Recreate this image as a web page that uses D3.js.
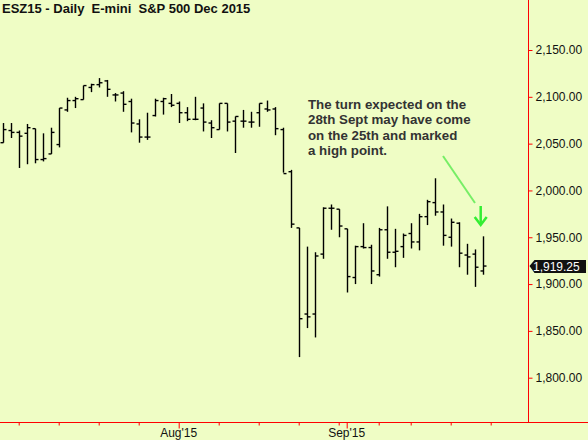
<!DOCTYPE html>
<html lang="en">
<head>
<meta charset="UTF-8">
<title>ESZ15 Daily</title>
<script src="https://cdn.jsdelivr.net/npm/d3@7"></script>
<style>
  body{margin:0;background:#effdc5;}
  text{font-family:Arial,"Liberation Sans",sans-serif;}
</style>
</head>
<body>
<div id="box"></div>
<script>
// trading days Jul 1 - Sep 25 2015 (Jul 3 and Sep 7 closed)
const holidays=["2015-07-03","2015-09-07"];
const fmt=d3.timeFormat("%Y-%m-%d");
const dates=d3.timeDay.range(new Date(2015,6,1),new Date(2015,8,26))
  .filter(d=>d.getDay()>0&&d.getDay()<6&&!holidays.includes(fmt(d))).map(fmt);

const opens =[2051,2064,2062,2061,2066,2033,2039,2049,2086,2096,2097,2110,2113,2117,2102,2104,2095,2071,2057,2080,2095,2093,2093,2083,2076,2088,2072,2065,2093,2074,2074,2073,2083,2087,2087,2065,2020,1960,1868,1868,1932,1981,1980,1959,1907,1940,1939,1910,1958,1934,1940,1954,1945,1972,1987,1977,1950,1965,1931,1932,1914];
const highs =[2072,2072,2064,2071,2066,2061,2067,2088,2099,2100,2112,2114,2120,2118,2104,2106,2098,2076,2083,2098,2099,2103,2095,2089,2100,2093,2075,2093,2093,2079,2086,2084,2093,2096,2089,2067,2022,1960,1940,1934,1982,1985,1980,1959,1941,1965,1942,1960,1983,1959,1954,1965,1975,1990,2013,1985,1970,1966,1943,1937,1951];
const lows  =[2051,2056,2024,2028,2029,2031,2039,2046,2084,2088,2097,2105,2110,2100,2095,2084,2062,2051,2054,2079,2081,2089,2072,2074,2075,2063,2056,2065,2063,2040,2067,2067,2068,2084,2059,2019,1960,1822,1853,1843,1927,1958,1950,1891,1900,1938,1900,1908,1927,1918,1928,1938,1936,1963,1973,1941,1940,1918,1910,1897,1910];
const closes=[2065,2062,2058,2067,2033,2034,2062,2088,2096,2098,2112,2113,2115,2108,2102,2092,2072,2057,2057,2096,2098,2091,2083,2076,2076,2073,2067,2093,2073,2079,2074,2073,2093,2086,2066,2018,1964,1863,1865,1930,1981,1981,1962,1908,1940,1939,1914,1958,1934,1935,1952,1945,1972,1988,1977,1952,1966,1933,1929,1918,1919.25];
const yTicks=[1800,1850,1900,1950,2000,2050,2100,2150];
const note=["The turn expected on the","28th Sept may have come","on the 25th and marked","a high point."];

const width=588,height=440;
const svg=d3.select("#box").append("svg").attr("width",width).attr("height",height);
svg.append("rect").attr("width",width).attr("height",height).attr("fill","#effdc5");

// x: one point per trading day, plus one spare day (Sep 28) for the last weekly tick
const xDomain=dates.concat(["2015-09-28"]);
const x=d3.scalePoint().domain(xDomain).range([2.7,2.7+8*(xDomain.length-1)]);
const y=d3.scaleLinear().domain([1800,2150]).range([377.7,50]);
const axisX=528.5,axisY=422.5;

// price bars
const g=svg.append("g").attr("stroke","#000").attr("stroke-width",1.4);
dates.forEach((d,i)=>{
  const cx=Math.round(x(d))+0.5;
  g.append("line").attr("x1",cx).attr("x2",cx).attr("y1",y(highs[i])).attr("y2",y(lows[i]));
  g.append("line").attr("x1",cx-3).attr("x2",cx).attr("y1",y(opens[i])).attr("y2",y(opens[i]));
  g.append("line").attr("x1",cx).attr("x2",cx+3).attr("y1",y(closes[i])).attr("y2",y(closes[i]));
});

// right axis
svg.append("line").attr("x1",axisX).attr("x2",axisX).attr("y1",0).attr("y2",axisY).attr("stroke","#f00");
const ya=svg.append("g").attr("transform",`translate(${axisX},0)`)
  .call(d3.axisRight(y).tickValues(yTicks).tickSize(4).tickFormat(d3.format(",.2f")));
ya.select(".domain").remove();
ya.selectAll(".tick line").attr("stroke","#f00");
ya.selectAll(".tick text").attr("x",7).attr("font-size","12px").attr("fill","#111");

// bottom axis: weekly ticks on first trading day of each week
svg.append("line").attr("x1",0).attr("x2",width).attr("y1",axisY).attr("y2",axisY).attr("stroke","#f00");
const weekly=xDomain.filter((d,i)=>i>0&&d3.timeMonday.floor(new Date(d))>d3.timeMonday.floor(new Date(xDomain[i-1])));
const monthly=["2015-08-03","2015-09-01"];
const xa=svg.append("g").attr("transform",`translate(0,${axisY})`)
  .call(d3.axisBottom(x).tickValues(weekly.concat(["2015-09-01"])).tickSize(3).tickFormat(""));
xa.select(".domain").remove();
xa.selectAll(".tick line").attr("stroke","#f00").attr("y2",d=>monthly.includes(d)?6:3);
svg.append("g").selectAll("text").data(monthly).join("text")
  .attr("x",d=>x(d)).attr("y",437).attr("text-anchor","middle")
  .attr("font-size","12px").attr("fill","#111")
  .text(d=>d3.timeFormat("%b'%y")(new Date(d+"T00:00")));

// last price label
const last=closes[closes.length-1],ly=y(last);
svg.append("path").attr("d",`M${axisX+1},${ly} L${axisX+6},${ly-6} H${width-2} V${ly+7} H${axisX+6} Z`).attr("fill","#111");
svg.append("text").attr("x",533).attr("y",ly+5).attr("font-size","12px").attr("fill","#fff").text(d3.format(",.2f")(last));

// title
svg.append("text").attr("x",2).attr("y",13).attr("font-size","13px").attr("font-weight","bold")
  .attr("fill","#111").attr("xml:space","preserve").text("ESZ15 - Daily  E-mini  S&P 500 Dec 2015");

// annotation
svg.append("g").selectAll("text").data(note).join("text")
  .attr("x",308).attr("y",(d,i)=>109+i*15.3).attr("font-size","13.3px").attr("font-weight","bold")
  .attr("fill","#333").text(d=>d);
const lastX=x(dates[dates.length-1]);
svg.append("line").attr("x1",443).attr("y1",156).attr("x2",475).attr("y2",203)
  .attr("stroke","#77ee66").attr("stroke-width",2);
const ar=svg.append("g").attr("stroke","#33ee33").attr("stroke-width",2.5).attr("fill","none");
ar.append("line").attr("x1",lastX-2).attr("x2",lastX-2).attr("y1",206).attr("y2",224);
ar.append("path").attr("d",`M${lastX-8},${217} L${lastX-2},${225} L${lastX+4},${217}`);
</script>
</body>
</html>
